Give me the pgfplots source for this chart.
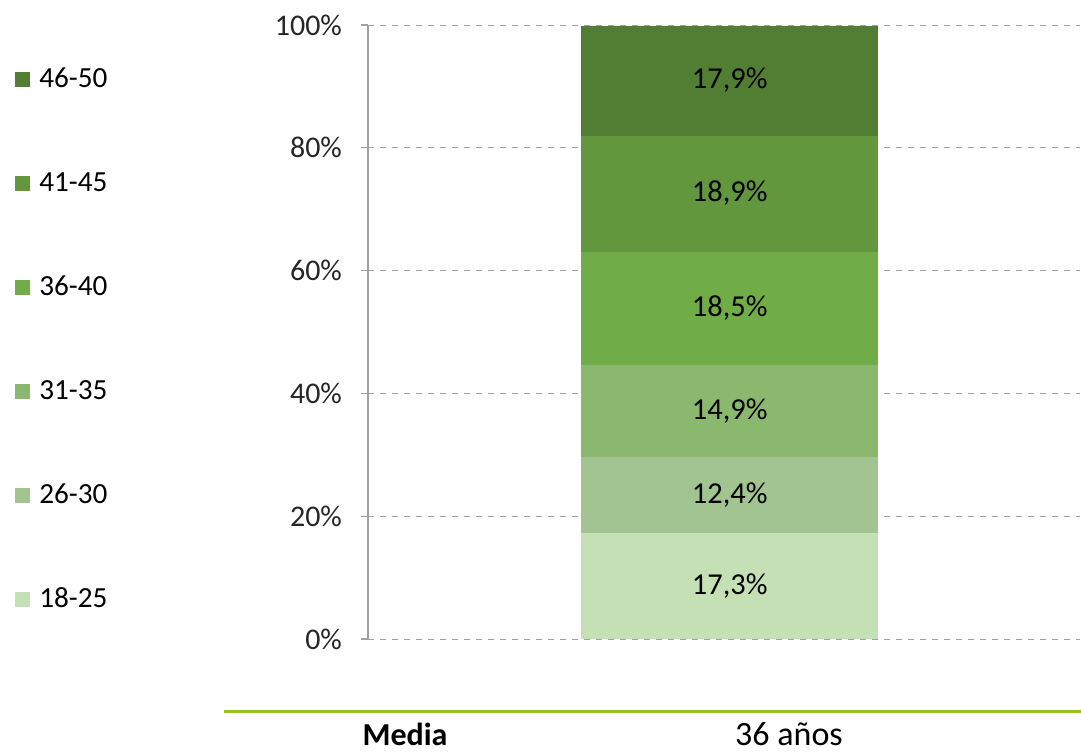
\documentclass[border=0pt]{standalone}
\usepackage{fontspec}
\setmainfont{Carlito}
\usepackage{pgfplots}
\pgfplotsset{compat=1.18}
\definecolor{c1}{RGB}{197,224,180}
\definecolor{c2}{RGB}{162,196,144}
\definecolor{c3}{RGB}{138,184,110}
\definecolor{c4}{RGB}{112,173,71}
\definecolor{c5}{RGB}{98,151,61}
\definecolor{c6}{RGB}{81,126,51}
\definecolor{gline}{RGB}{150,193,31}
\definecolor{axgray}{RGB}{160,160,160}
\begin{document}
\begin{tikzpicture}
\path[use as bounding box] (-184pt,-56pt) rectangle (356.5pt,319.5pt);
\begin{axis}[
  scale only axis, width=356pt, height=307pt,
  xmin=0, xmax=1, ymin=0, ymax=100,
  ybar stacked, bar width=148.5pt,
  axis x line=none, axis y line*=left,
  y axis line style={draw=axgray, line width=0.6pt},
  ytick={0,20,40,60,80,100},
  yticklabel={\pgfmathprintnumber{\tick}\%},
  tick align=outside, major tick length=3.5pt,
  ytick style={draw=axgray, line width=0.6pt},
  ymajorgrids, grid style={dashed, axgray, line width=0.4pt},
  ticklabel style={font=\fontsize{15}{17}\selectfont, text=black!85},
  yticklabel style={xshift=-6pt},
  /pgf/number format/assume math mode=true,
  lg/.style={legend image code/.code={\fill[##1] (0pt,-3.75pt) rectangle (7.5pt,3.75pt);}},
  legend style={draw=none, fill=none, at={(-0.4958,0.4878)}, anchor=west,
    row sep=36.8pt, font=\fontsize{14.6}{16}\selectfont, inner sep=0pt,
    cells={anchor=west}, /tikz/every odd column/.style={column sep=2.5pt}},
  reverse legend,
  visualization depends on={rawy \as \rawy},
  nodes near coords={\pgfmathprintnumber[use comma,fixed,fixed zerofill,precision=1]{\rawy}\%},
  every node near coord/.append style={anchor=center,
    font=\fontsize{15.2}{17}\selectfont, text=black},
]
\addplot[fill=c1, draw=none, lg] coordinates {(0.508,17.3)};
\addplot[fill=c2, draw=none, lg] coordinates {(0.508,12.4)};
\addplot[fill=c3, draw=none, lg] coordinates {(0.508,14.9)};
\addplot[fill=c4, draw=none, lg] coordinates {(0.508,18.5)};
\addplot[fill=c5, draw=none, lg] coordinates {(0.508,18.9)};
\addplot[fill=c6, draw=none, lg] coordinates {(0.508,17.9)};
\legend{18-25,26-30,31-35,36-40,41-45,46-50}
\end{axis}
\draw[gline, line width=1.5pt] (-72pt,-36pt) -- (356.5pt,-36pt);
\node[anchor=base, font=\fontsize{16}{18}\selectfont\bfseries, inner sep=0pt] at (18.5pt,-53pt) {Media};
\node[anchor=base, font=\fontsize{17}{19}\selectfont, inner sep=0pt] at (210.5pt,-53pt) {36 años};
\end{tikzpicture}
\end{document}
